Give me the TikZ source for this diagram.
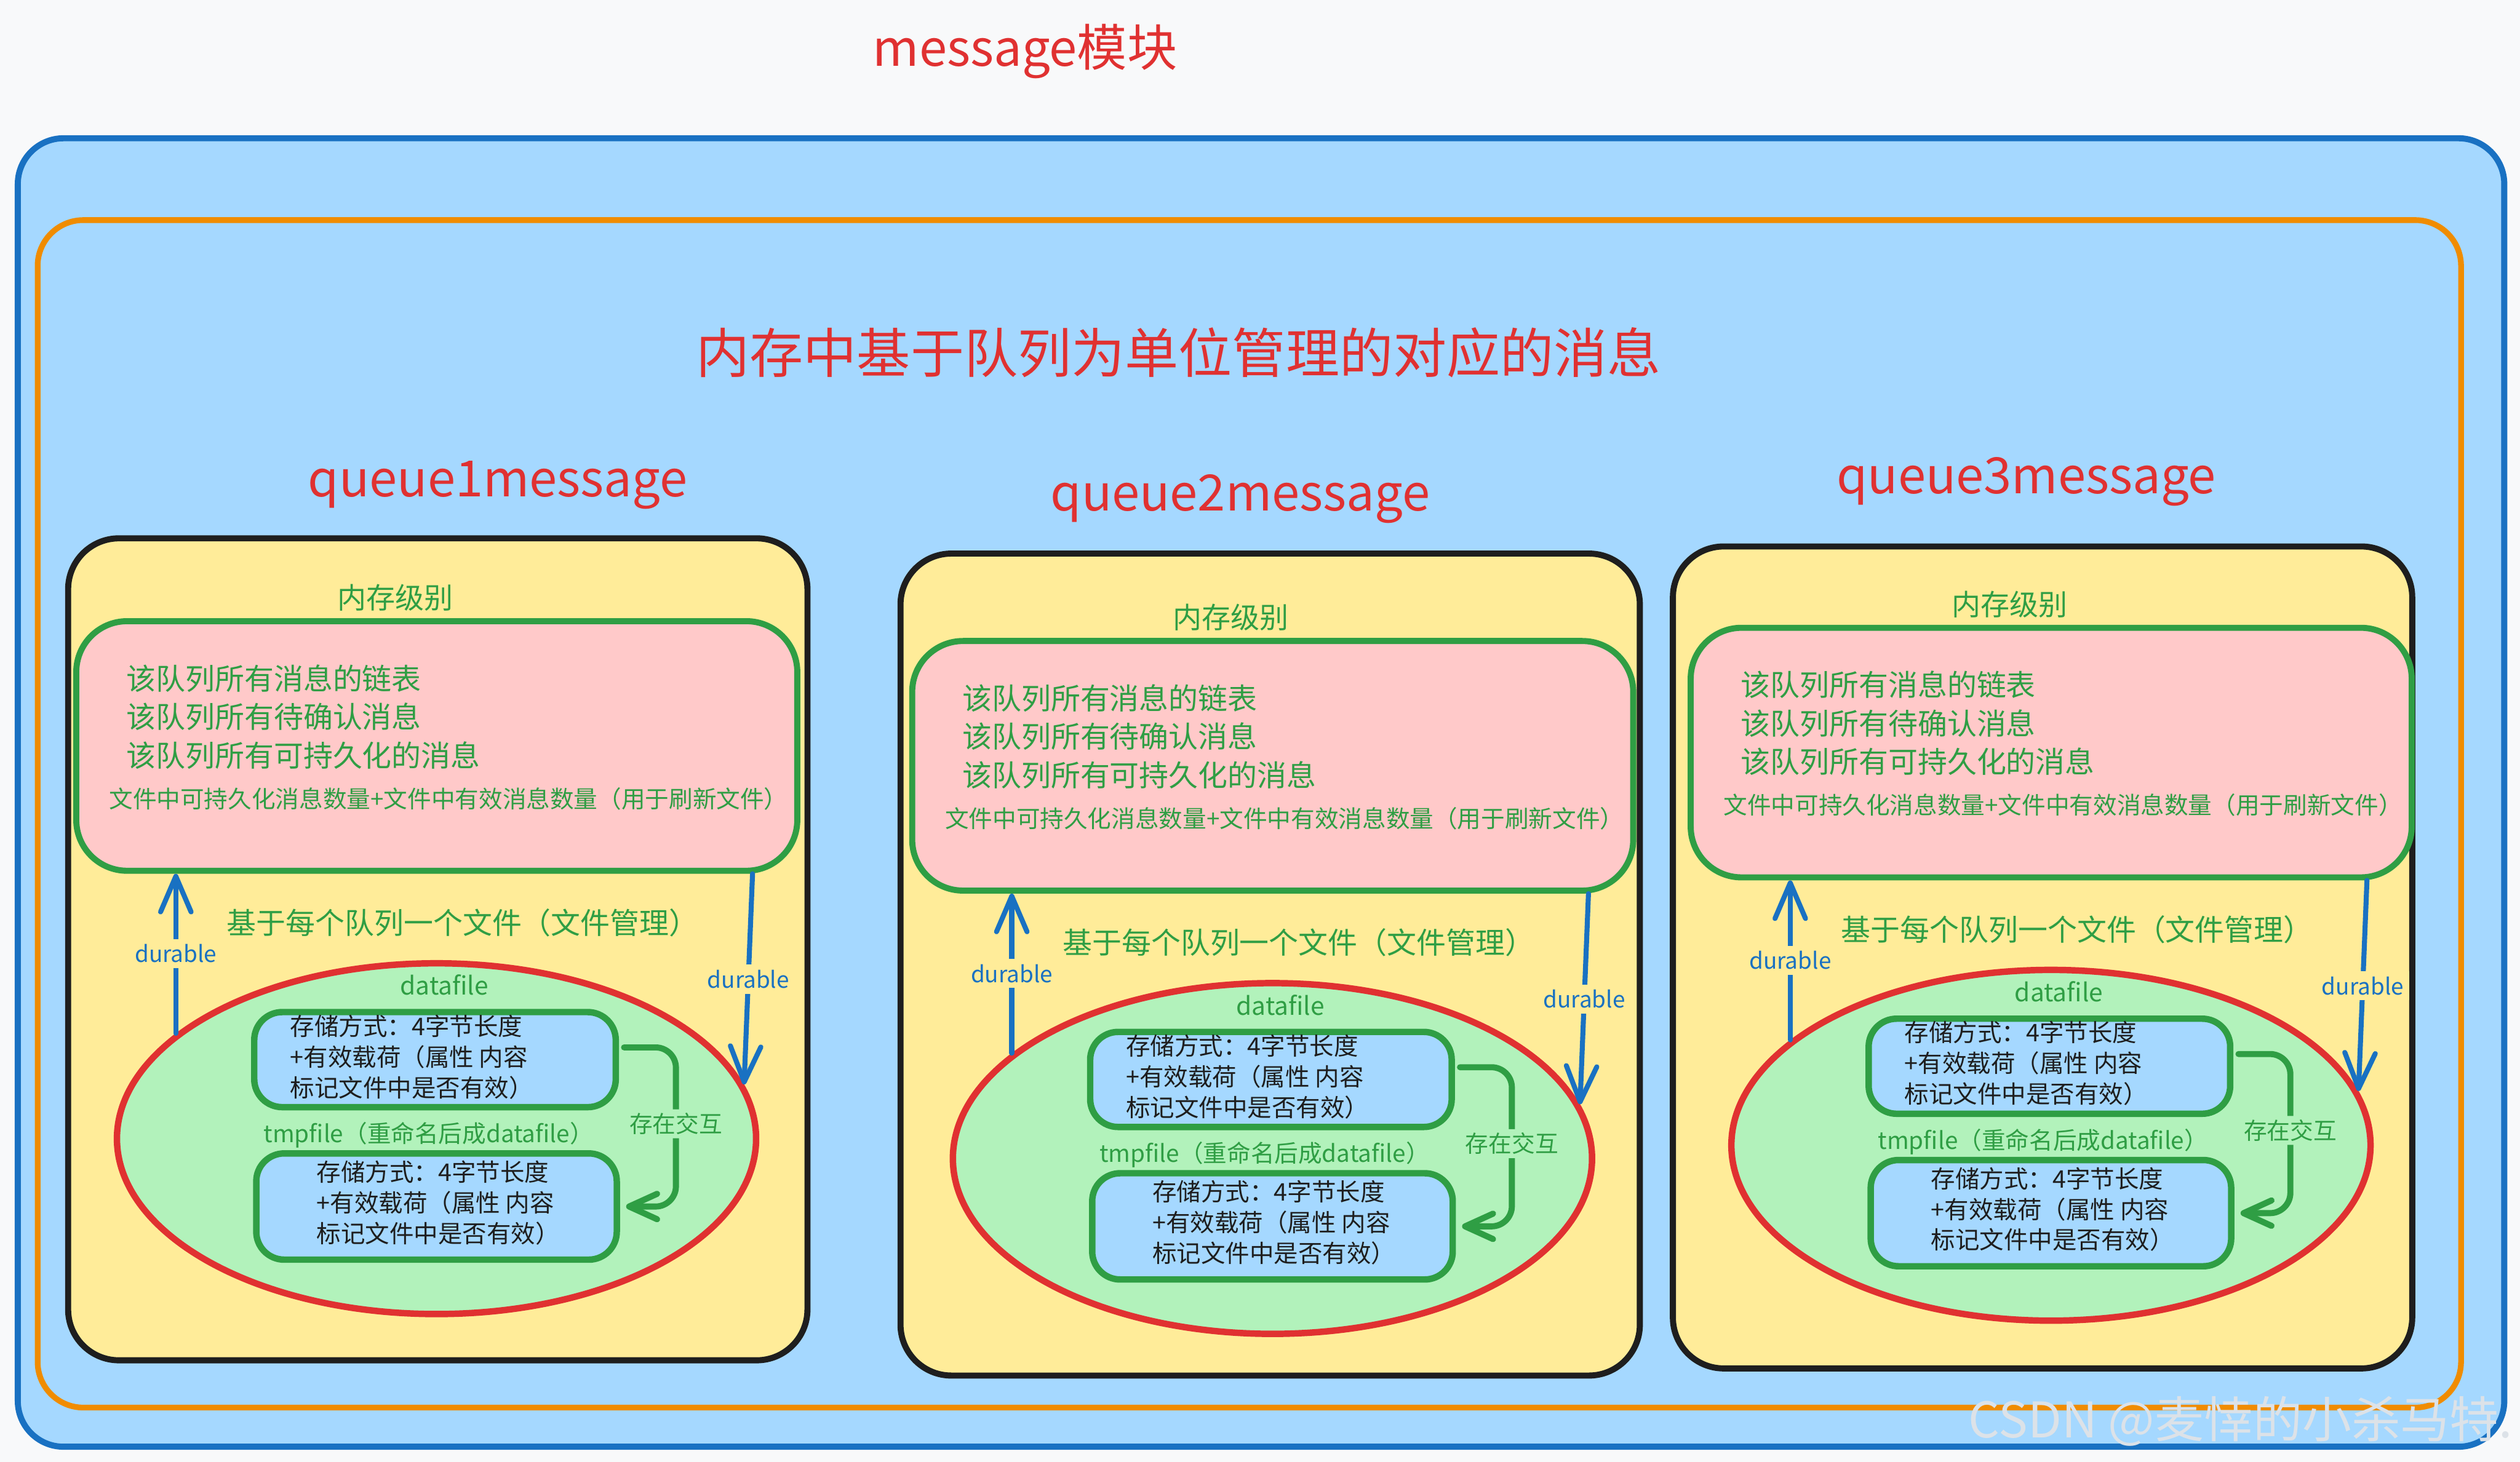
\documentclass[tikz,border=0pt]{standalone}
\usepackage{fontspec}
\setmainfont{Noto Sans CJK SC}
\usepackage{tikz}
\usetikzlibrary{arrows.meta,positioning,calc,shapes.geometric}
\definecolor{ink}{HTML}{1E1E1E}
\definecolor{page}{HTML}{F8F9FA}
\definecolor{sky}{HTML}{A5D8FF}
\definecolor{navy}{HTML}{1971C2}
\definecolor{amber}{HTML}{F08C00}
\definecolor{alert}{HTML}{E03131}
\definecolor{sand}{HTML}{FFEC99}
\definecolor{rose}{HTML}{FFC9C9}
\definecolor{leaf}{HTML}{2F9E44}
\definecolor{mint}{HTML}{B2F2BB}
\definecolor{ghost}{HTML}{DCE2E8}
\tikzset{
  frame/.style={line width=3.4pt,rounded corners=0.9cm},
  panel/.style={draw=ink,fill=sand,line width=3.4pt,rounded corners=1cm,
    minimum width=14.54cm,minimum height=16.17cm,inner sep=0},
  membox/.style={draw=leaf,fill=rose,line width=3.4pt,rounded corners=1cm,
    minimum width=14.18cm,minimum height=4.91cm,inner sep=0},
  filering/.style={ellipse,draw=alert,fill=mint,line width=3.6pt,
    minimum width=12.57cm,minimum height=6.9cm,inner sep=0},
  rec/.style={draw=leaf,fill=sky,line width=3.6pt,rounded corners=0.55cm,inner sep=0},
  head/.style={text=alert,inner sep=0},
  gtxt/.style={text=leaf,inner sep=0,font=\fontsize{16.5}{21.5}\selectfont,align=left},
  stxt/.style={text=leaf,inner sep=0,font=\fontsize{13.3}{16}\selectfont},
  btxt/.style={text=ink,inner sep=0,font=\fontsize{13.6}{17.2}\selectfont,align=left},
  durarr/.style={draw=navy,line width=2.8pt,line cap=round,
    -{Straight Barb[length=7mm,width=6mm,round]}},
  swaparr/.style={draw=leaf,line width=3.4pt,line cap=round,rounded corners=0.4cm,
    -{Straight Barb[length=5.5mm,width=5mm,round]}},
  durlbl/.style={text=navy,fill=sand,inner sep=3pt,font=\fontsize{12.7}{15}\selectfont},
  swaplbl/.style={text=leaf,fill=mint,inner sep=2pt,font=\fontsize{13}{15}\selectfont},
}
\begin{document}
\begin{tikzpicture}[x=1cm,y=-1cm]
  \fill[page] (0,0) rectangle (49.56,28.76);
  \useasboundingbox (0,0) rectangle (49.56,28.76);
  \node[head,font=\fontsize{28}{32}\selectfont] (title) at (20.16,1.01) {message模块};
  \draw[frame,draw=navy,fill=sky] (0.35,2.72) rectangle (49.25,28.46);
  \draw[frame,draw=amber,line width=3.2pt] (0.74,4.33) rectangle (48.40,27.69);
  \node[head,font=\fontsize{30}{34}\selectfont] (sub) at (23.18,6.94)
    {内存中基于队列为单位管理的对应的消息};
  % one panel per queue
  \foreach \i/\bx/\by/\px/\py/\qx/\qy in {1/8.61/18.675/0/0/9.79/9.54,
      2/24.98/18.975/16.44/0.39/24.39/9.82, 3/40.17/18.835/31.75/0.13/39.85/9.48}{
    \node[head,font=\fontsize{28}{32}\selectfont] (q\i) at (\qx,\qy) {queue\i message};
    \node[panel] (panel\i) at (\bx,\by) {};
    \begin{scope}[shift={(\px,\py)}]
      \node[membox] (mem\i) at (8.59,14.675) {};
      \node[gtxt,font=\fontsize{16.2}{20}\selectfont] (lvl\i) at (7.77,11.76) {内存级别};
      \node[gtxt,anchor=west] (list\i) at (2.48,14.10)
        {该队列所有消息的链表\\该队列所有待确认消息\\该队列所有可持久化的消息};
      \node[stxt,anchor=west] (cnt\i) at (2.14,15.71)
        {文件中可持久化消息数量+文件中有效消息数量（用于刷新文件）};
      \node[gtxt] (per\i) at (9.10,18.15) {基于每个队列一个文件（文件管理）};
      \node[filering] (ell\i) at (8.585,22.40) {};
      \node[stxt,font=\fontsize{14}{16}\selectfont] (dlab\i) at (8.74,19.38) {datafile};
      \node[rec,minimum width=7.11cm,minimum height=1.87cm] (dbox\i) at (8.555,20.845) {};
      \node[btxt,anchor=west] (dtxt\i) at (5.70,20.79)
        {存储方式：4字节长度\\+有效载荷（属性 内容\\标记文件中是否有效）};
      \node[stxt] (tlab\i) at (8.43,22.33) {tmpfile（重命名后成datafile）};
      \node[rec,minimum width=7.09cm,minimum height=2.09cm] (tbox\i) at (8.585,23.735) {};
      \node[btxt,anchor=west] (ttxt\i) at (6.22,23.66)
        {存储方式：4字节长度\\+有效载荷（属性 内容\\标记文件中是否有效）};
      \draw[durarr] (ell\i.158) -- (ell\i.158 |- mem\i.south)
        node[durlbl,midway] {durable};
      \draw[durarr] ($(mem\i.south east)+(-0.94,0)$) -- (ell\i.10)
        node[durlbl,midway] {durable};
      \draw[swaparr] ([xshift=1mm,yshift=2.4mm]dbox\i.east) -| ($(tbox\i.east)+(1.1,0)$)
        node[swaplbl,pos=0.74] {存在交互} -- ([xshift=1.2mm]tbox\i.east);
    \end{scope}
  }
  \node[text=ghost,inner sep=0,anchor=east,font=\fontsize{27.5}{32}\selectfont] (wm)
    at (49.42,27.96) {CSDN @麦悻的小杀马特.};
\end{tikzpicture}
\end{document}
